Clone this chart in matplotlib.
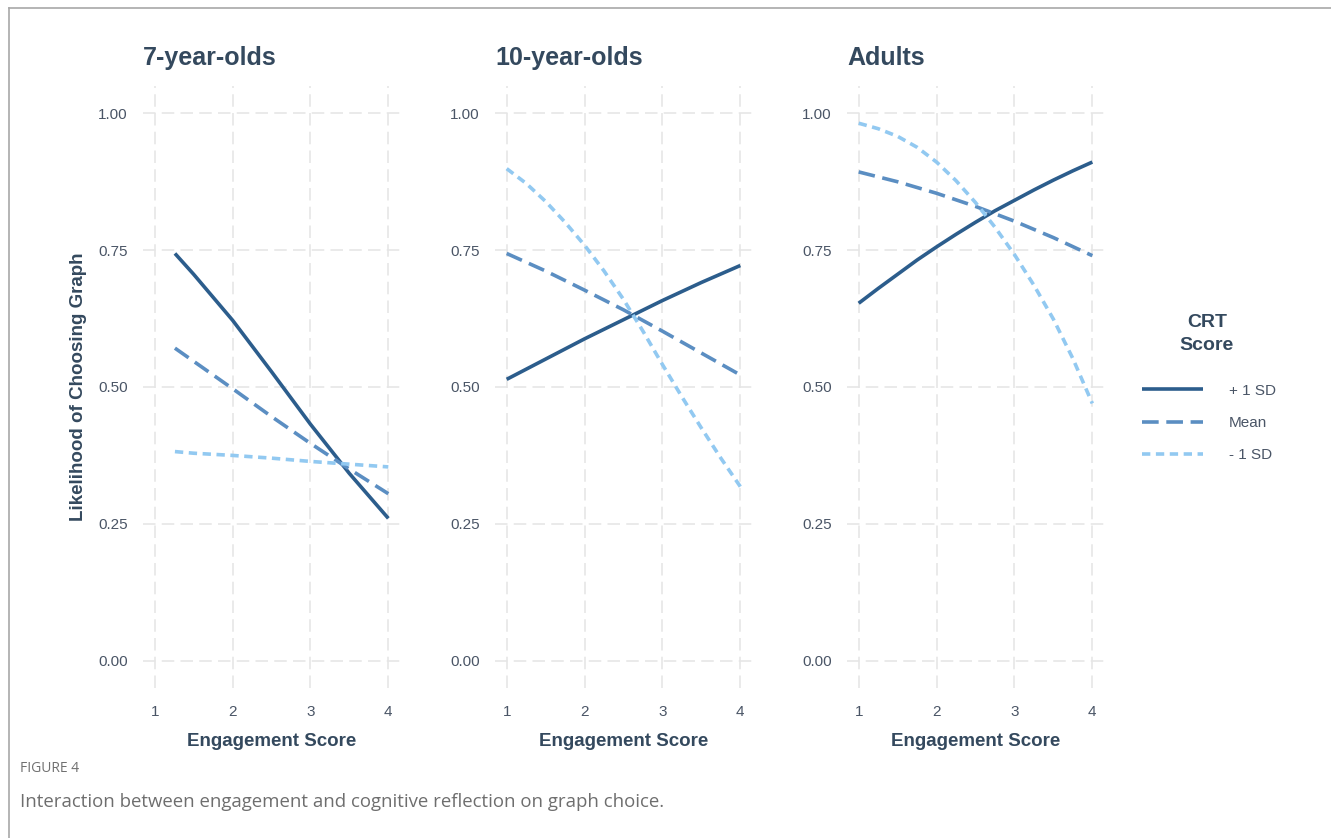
import matplotlib
matplotlib.use("Agg")
import matplotlib.pyplot as plt
from matplotlib.lines import Line2D

# Predicted probability of choosing the graph, by age group and CRT level
GRUPOS = ["7-year-olds", "10-year-olds", "Adults"]
NIVELES = ["+ 1 SD", "Mean", "- 1 SD"]

X_7 = [1.26, 1.5, 2, 2.5, 3, 3.5, 4]
X_MEDIOS = [1, 1.5, 2, 2.5, 3, 3.5, 4]
X_CUARTOS = [1, 1.25, 1.5, 1.75, 2, 2.25, 2.5, 2.75, 3, 3.25, 3.5, 3.75, 4]

MAS_SD_7 = [0.744, 0.706, 0.622, 0.528, 0.432, 0.342, 0.26]
MEDIA_7 = [0.571, 0.547, 0.497, 0.446, 0.397, 0.35, 0.305]
MENOS_SD_7 = [0.382, 0.379, 0.375, 0.37, 0.364, 0.359, 0.354]

MAS_SD_10 = [0.514, 0.551, 0.588, 0.623, 0.658, 0.691, 0.722]
MEDIA_10 = [0.744, 0.712, 0.677, 0.641, 0.602, 0.562, 0.522]
MENOS_SD_10 = [0.899, 0.872, 0.839, 0.801, 0.759, 0.712, 0.66,
               0.602, 0.541, 0.482, 0.425, 0.37, 0.318]

MAS_SD_ADULTOS = [0.653, 0.68, 0.706, 0.732, 0.756, 0.779, 0.801,
                  0.822, 0.841, 0.86, 0.878, 0.895, 0.911]
MEDIA_ADULTOS = [0.893, 0.875, 0.854, 0.83, 0.803, 0.773, 0.74]
MENOS_SD_ADULTOS = [0.982, 0.972, 0.958, 0.938, 0.911, 0.877, 0.837,
                    0.792, 0.742, 0.686, 0.624, 0.552, 0.47]

Y_TICKS = [0.00, 0.25, 0.50, 0.75, 1.00]
X_TICKS = [1, 2, 3, 4]

COLORES = ["#2c5d8c", "#5b8ec2", "#92c9f1"]
GUIONES = [None, (12, 5.5), (6, 4)]

TEXTO = "#34495e"
TICKS = "#4a5566"
GRIS_GRID = "#e6e6e6"

plt.rcParams["font.family"] = ["Liberation Sans", "DejaVu Sans"]
plt.rcParams["lines.scale_dashes"] = False

# (x, y) de cada nivel de CRT en cada panel
datos = [
    [(X_7, MAS_SD_7), (X_7, MEDIA_7), (X_7, MENOS_SD_7)],
    [(X_MEDIOS, MAS_SD_10), (X_MEDIOS, MEDIA_10), (X_CUARTOS, MENOS_SD_10)],
    [(X_CUARTOS, MAS_SD_ADULTOS), (X_MEDIOS, MEDIA_ADULTOS), (X_CUARTOS, MENOS_SD_ADULTOS)],
]

W, H = 1331, 838
fig = plt.figure(figsize=(W / 100, H / 100), dpi=100)

izquierdas = [143, 495, 847]
ancho = 257
arriba, abajo = 86, 688

for i, (grupo, series) in enumerate(zip(GRUPOS, datos)):
    ax = fig.add_axes([izquierdas[i] / W, 1 - abajo / H, ancho / W, (abajo - arriba) / H])
    # cuadrícula discontinua
    for yt in Y_TICKS:
        ax.axhline(yt, color=GRIS_GRID, lw=1.2, dashes=(9, 4.5), zorder=0)
    for xt in X_TICKS:
        ax.axvline(xt, color=GRIS_GRID, lw=1.2, dashes=(9, 4.5), zorder=0)

    for (x, y), color, guion, nivel in zip(series, COLORES, GUIONES, NIVELES):
        linea, = ax.plot(x, y, color=color, lw=2.6, label=nivel,
                         solid_capstyle="butt", dash_capstyle="butt",
                         solid_joinstyle="round")
        if guion is not None:
            linea.set_dashes(guion)

    ax.set_xlim(0.85, 4.15)
    ax.set_ylim(-0.05, 1.05)
    ax.set_xticks(X_TICKS)
    ax.set_yticks(Y_TICKS)
    ax.set_yticklabels([f"{v:.2f}" for v in Y_TICKS])
    ax.tick_params(length=0, labelsize=11, colors=TICKS)
    ax.tick_params(axis="y", pad=11)
    ax.tick_params(axis="x", pad=12)
    for s in ax.spines.values():
        s.set_visible(False)

    ax.set_title(grupo, loc="left", fontsize=18, fontweight="bold", color=TEXTO, pad=15)
    ax.set_xlabel("Engagement Score", fontsize=13.5, fontweight="bold", color=TEXTO, labelpad=10)
    if i == 0:
        ax.set_ylabel("Likelihood of Choosing Graph", fontsize=13.5, fontweight="bold",
                      color=TEXTO, labelpad=8)
        handles, labels = ax.get_legend_handles_labels()

# leyenda: título aparte y entradas debajo
fig.text(1207 / W, 1 - 334 / H, "CRT\nScore", ha="center", va="center", fontsize=14,
         fontweight="bold", color=TEXTO, linespacing=1.45)
leyenda = fig.legend(handles, labels, loc="center left",
                     bbox_to_anchor=(1128 / W, 1 - 423 / H), frameon=False, fontsize=11,
                     handlelength=4.0, handletextpad=1.7, labelspacing=1.2)
for t in leyenda.get_texts():
    t.set_color(TICKS)

# marco superior e izquierdo de la figura
fig.add_artist(Line2D([9 / W, 1], [1 - 8 / H, 1 - 8 / H], color="#a8a8a8", lw=1.2))
fig.add_artist(Line2D([9 / W, 9 / W], [0, 1 - 8 / H], color="#a8a8a8", lw=1.2))

fig.text(20 / W, 1 - 768 / H, "FIGURE 4", fontsize=10, color="#707070",
         family=["Open Sans", "DejaVu Sans"], va="center")
fig.text(20 / W, 1 - 802 / H, "Interaction between engagement and cognitive reflection on graph choice.",
         fontsize=13.4, color="#6e6e6e", family=["Open Sans", "DejaVu Sans"], va="center")

fig.savefig("out.png", dpi=100)
